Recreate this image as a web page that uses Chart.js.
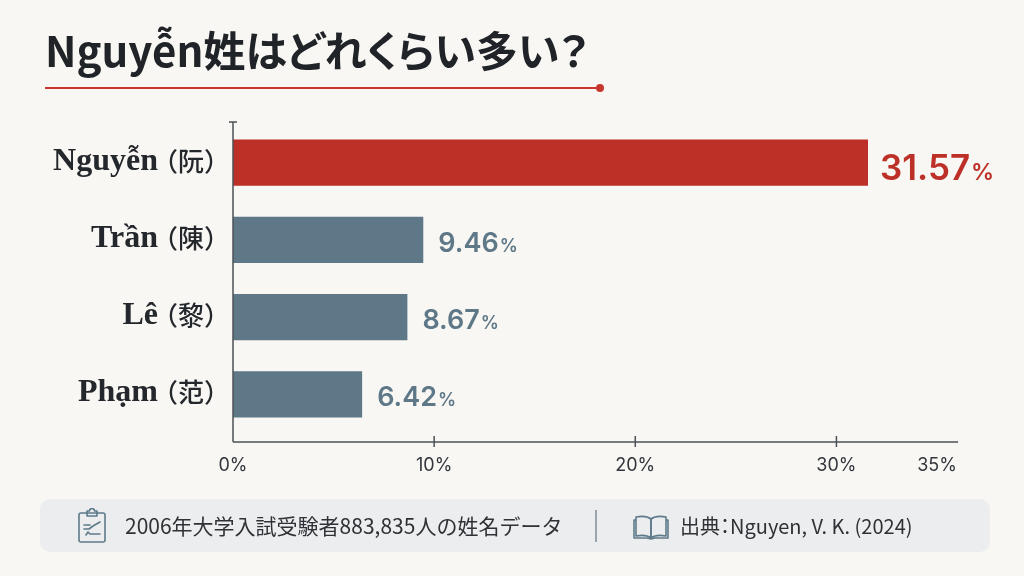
<!DOCTYPE html>
<html lang="ja">
<head>
<meta charset="utf-8">
<script src="https://cdn.jsdelivr.net/npm/chart.js@4"></script>
<style>
  html, body { margin:0; padding:0; background:#F8F7F3; }
  body { width:1024px; height:576px; position:relative; overflow:hidden; font-family:"Noto Sans CJK JP","Noto Sans",sans-serif; }
  #wrap { position:absolute; left:0; top:0; width:1024px; height:576px; }
  #title { position:absolute; left:45px; top:24px; margin:0; font-size:42px; line-height:50px; font-weight:700; color:#202428; font-feature-settings:"palt"; letter-spacing:0; white-space:nowrap; }
  #rule { position:absolute; left:45px; top:87px; width:555px; height:2px; background:#C8372D; }
  #dot { position:absolute; left:596px; top:84px; width:8px; height:8px; border-radius:50%; background:#C8372D; }
  #foot { position:absolute; left:40px; top:499px; width:950px; height:53px; background:#ECEDEE; border-radius:10px; }
  .ft { position:absolute; top:0; height:53px; line-height:53px; font-size:20px; color:#2E3236; white-space:nowrap; }
  #divider { position:absolute; left:555px; top:11px; width:1.5px; height:32px; background:#9AA5AD; }
  svg { position:absolute; }
</style>
</head>
<body>
<div id="wrap"><canvas id="c" width="1024" height="576"></canvas></div>
<h1 id="title">Nguyễn姓はどれくらい多い？</h1>
<div id="rule"></div><div id="dot"></div>
<div id="foot">
  <svg style="left:37px;top:9px" width="30" height="36" viewBox="0 0 30 36" fill="none" stroke="#5E7A8A" stroke-width="1.6" stroke-linejoin="round" stroke-linecap="round">
    <rect x="2" y="5" width="26" height="29" rx="2"/>
    <path d="M10 5 V3 H12.5 A2.5 2.5 0 0 1 17.5 3 H20 V5 V8 H10 Z"/>
    <path d="M7 17 H13 M7 21 H12 L16 18 L23 14 M9 27 L11 24 L13 26 H23"/>
  </svg>
  <div class="ft" style="left:85px;font-size:21px;">2006年大学入試受験者883,835人の姓名データ</div>
  <div id="divider"></div>
  <svg style="left:593px;top:15px" width="36" height="26" viewBox="0 0 36 26" fill="none" stroke="#5E7A8A" stroke-width="1.6" stroke-linejoin="round">
    <path d="M18 5 C14 2 8 2 3 3 V22 C8 21 14 21 18 24 Z"/>
    <path d="M18 5 C22 2 28 2 33 3 V22 C28 21 22 21 18 24 Z"/>
    <path d="M3 6 H1 V24 H14 L18 25 L22 24 H35 V6 H33"/>
  </svg>
  <div class="ft" style="left:640px;font-feature-settings:'palt';">出典：Nguyen, V. K. (2024)</div>
</div>
<script>
// ---- data ----
const categories = ['Nguyễn（阮）', 'Trần（陳）', 'Lê（黎）', 'Phạm（范）'];
const shares = [31.57, 9.46, 8.67, 6.42];
const xTickValues = [0, 10, 20, 30, 35];
const xMax = 35;

// ---- styles ----
const RED = '#BD3027';
const SLATE = '#5E7888';
const AXIS = '#4B5157';
const barColors = shares.map((v, i) => i === 0 ? RED : SLATE);

const axesPlugin = {
  id: 'axesPlugin',
  afterDatasetsDraw(chart) {
    const ctx = chart.ctx, a = chart.chartArea, xs = chart.scales.x;
    const x0 = xs.getPixelForValue(0);
    const yAxis = a.bottom + 9;
    ctx.save();
    ctx.strokeStyle = AXIS; ctx.lineWidth = 1.5;
    ctx.beginPath();
    ctx.moveTo(x0, a.top - 2); ctx.lineTo(x0, yAxis);
    ctx.moveTo(x0 - 4, a.top - 2); ctx.lineTo(x0 + 4, a.top - 2);
    ctx.moveTo(x0, yAxis); ctx.lineTo(958, yAxis);
    xTickValues.forEach(v => {
      if (v > 0 && v < xMax) {
        const px = xs.getPixelForValue(v);
        ctx.moveTo(px, yAxis - 6); ctx.lineTo(px, yAxis + 5);
      }
    });
    ctx.stroke();

    // value labels
    const meta = chart.getDatasetMeta(0);
    meta.data.forEach((bar, i) => {
      const big = i === 0;
      const num = shares[i].toFixed(2);
      const f1 = big ? '600 35px Inter' : '600 27px Inter';
      const f2 = big ? '600 23px Inter' : '600 18px Inter';
      let x = bar.x + (big ? 12 : 15);
      const y = bar.y + (big ? 17 : 12);
      ctx.fillStyle = big ? RED : SLATE;
      ctx.textAlign = 'left'; ctx.textBaseline = 'alphabetic';
      ctx.font = f1; ctx.fillText(num, x, y);
      x += ctx.measureText(num).width + 1;
      ctx.font = f2; ctx.fillText('%', x, y);
    });

    // category labels
    const ys = chart.scales.y;
    categories.forEach((lab, i) => {
      const y = ys.getPixelForValue(i) + 7;
      const k = lab.indexOf('（');
      const lat = lab.slice(0, k), cjk = lab.slice(k);
      ctx.fillStyle = '#24272B';
      ctx.textBaseline = 'alphabetic';
      ctx.textAlign = 'left';
      ctx.font = '500 26px "Noto Sans CJK JP"';
      const m = ctx.measureText(cjk);
      const xc = 213 - m.actualBoundingBoxRight;
      ctx.fillText(cjk, xc, y + 1);
      ctx.font = 'bold 32px "Liberation Serif"';
      ctx.textAlign = 'right';
      ctx.fillText(lat, xc + 6, y);
    });
    ctx.restore();
  }
};

new Chart(document.getElementById('c'), {
  type: 'bar',
  data: {
    labels: categories,
    datasets: [{
      data: shares,
      backgroundColor: barColors,
      borderWidth: 0,
      barPercentage: 0.6,
      categoryPercentage: 1
    }]
  },
  options: {
    indexAxis: 'y',
    responsive: false,
    animation: false,
    devicePixelRatio: 1,
    layout: { padding: { top: 124, right: 87, bottom: 0, left: 0 } },
    plugins: { legend: { display: false }, tooltip: { enabled: false } },
    scales: {
      x: {
        min: 0, max: xMax,
        afterBuildTicks(s) { s.ticks = xTickValues.map(v => ({ value: v })); },
        afterFit(s) { s.height = 576 - 433; },
        grid: { display: false, drawTicks: false },
        border: { display: false },
        ticks: {
          padding: 22,
          autoSkip: false,
          maxRotation: 0,
          color: '#32373D',
          font: { family: 'Inter', size: 18 },
          callback: v => v + '%'
        }
      },
      y: {
        afterFit(s) { s.width = 233; },
        grid: { display: false, drawTicks: false },
        border: { display: false },
        ticks: { display: false }
      }
    }
  },
  plugins: [axesPlugin]
});
</script>
</body>
</html>
